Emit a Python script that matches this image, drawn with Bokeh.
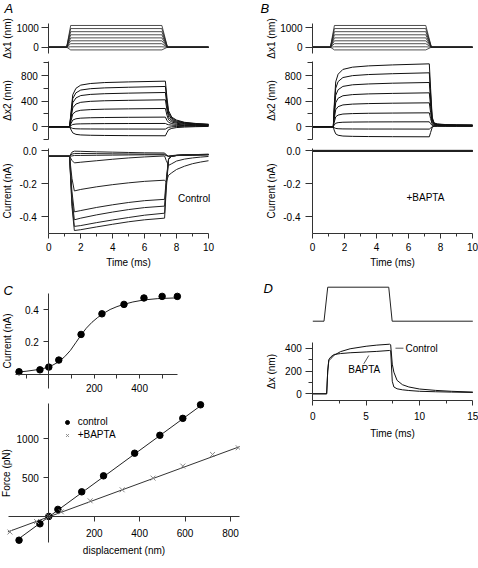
from bokeh.plotting import figure
from bokeh.models import Range1d, FixedTicker, PrintfTickFormatter, Label, Legend, LegendItem
from bokeh.layouts import column, row
from bokeh.embed import file_html
from bokeh.resources import INLINE

FONT = "Liberation Sans"
AX = "#333333"
TXT = "#000000"

# ---------------- data ----------------
# A/B top: command displacement steps dx1 (nm)
STEP_T = [0, 1.12, 1.37, 7.08, 7.43, 10]
STEP_LEVELS = [-140, 20, 180, 330, 480, 640, 800, 960, 1120]

# A middle: dx2 (nm), control
X2_T_A = [0, 1.3, 1.4, 1.5, 1.7, 2.0, 2.6, 3.5, 5.0, 7.3, 7.4, 7.5, 7.7, 8.0, 8.5, 9.2, 10.0]
X2_A = [
    [0, 0, -50, -95, -118, -127, -132, -135, -138, -140, -90, -45, -25, -12, -4, 2, 6],
    [0, 0, -15, -26, -31, -33, -34, -35, -35, -36, -20, -8, 0, 4, 8, 10, 12],
    [0, 0, 20, 36, 43, 46, 48, 50, 51, 52, 40, 32, 26, 22, 20, 18, 16],
    [0, 0, 55, 105, 125, 135, 141, 145, 148, 151, 100, 70, 50, 38, 30, 24, 20],
    [0, 0, 100, 200, 240, 258, 268, 275, 280, 286, 180, 110, 75, 55, 40, 32, 26],
    [0, 0, 150, 295, 355, 382, 397, 406, 413, 421, 260, 150, 95, 68, 50, 38, 30],
    [0, 0, 190, 375, 450, 487, 505, 516, 525, 535, 330, 190, 115, 80, 58, 44, 34],
    [0, 0, 220, 440, 530, 573, 594, 607, 617, 629, 390, 220, 135, 92, 64, 48, 37],
    [0, 0, 250, 500, 600, 650, 675, 690, 700, 712, 450, 250, 150, 105, 70, 52, 40],
]

# B middle: dx2 (nm), +BAPTA
X2_T_B = [0, 1.3, 1.35, 1.45, 1.6, 1.9, 2.5, 3.5, 5.0, 7.3, 7.38, 7.48, 7.6, 7.8, 8.3, 9.0, 10.0]
X2_B = [
    [0, 0, -50, -110, -132, -144, -149, -152, -154, -156, -90, -10, 10, 12, 10, 9, 8],
    [0, 0, -12, -25, -30, -33, -34, -35, -35, -36, -20, 0, 8, 10, 10, 10, 10],
    [0, 0, 25, 55, 65, 71, 74, 76, 77, 78, 50, 20, 15, 14, 13, 13, 12],
    [0, 0, 65, 155, 183, 199, 206, 211, 214, 218, 130, 40, 25, 22, 20, 18, 17],
    [0, 0, 115, 265, 314, 341, 354, 362, 368, 374, 225, 62, 35, 28, 24, 22, 20],
    [0, 0, 160, 375, 445, 484, 502, 513, 521, 530, 320, 85, 42, 33, 27, 24, 22],
    [0, 0, 210, 490, 578, 630, 655, 668, 680, 691, 420, 110, 50, 38, 30, 26, 24],
    [0, 0, 260, 600, 705, 768, 798, 815, 828, 842, 510, 130, 55, 40, 32, 28, 26],
    [0, 0, 300, 700, 820, 895, 930, 950, 965, 982, 600, 150, 60, 45, 35, 30, 28],
]

# A bottom: transducer current (nA), control
CUR_T_A = [0, 1.3, 1.45, 1.6, 2.0, 3.0, 4.0, 5.0, 6.0, 7.25, 7.35, 7.5, 7.7, 8.0, 8.5, 9.0, 9.5, 10.0]
CUR_A = [
    [-0.035, -0.035, -0.010, -0.004, -0.005, -0.008, -0.010, -0.012, -0.014, -0.015, -0.025, -0.035, -0.033, -0.030, -0.028, -0.026, -0.025, -0.024],
    [-0.035, -0.035, -0.022, -0.018, -0.018, -0.019, -0.020, -0.021, -0.022, -0.022, -0.030, -0.036, -0.033, -0.030, -0.027, -0.025, -0.024, -0.023],
    [-0.035, -0.035, -0.033, -0.030, -0.030, -0.029, -0.028, -0.027, -0.026, -0.026, -0.030, -0.034, -0.031, -0.028, -0.026, -0.025, -0.024, -0.023],
    [-0.035, -0.035, -0.060, -0.075, -0.071, -0.062, -0.053, -0.045, -0.039, -0.033, -0.060, -0.090, -0.080, -0.064, -0.052, -0.045, -0.040, -0.036],
    [-0.035, -0.035, -0.170, -0.245, -0.236, -0.220, -0.207, -0.196, -0.187, -0.180, -0.190, -0.150, -0.135, -0.115, -0.095, -0.080, -0.070, -0.062],
    [-0.035, -0.035, -0.250, -0.372, -0.364, -0.345, -0.329, -0.315, -0.304, -0.296, -0.180, -0.050, -0.035, -0.031, -0.029, -0.028, -0.027, -0.026],
    [-0.035, -0.035, -0.290, -0.420, -0.410, -0.390, -0.373, -0.358, -0.346, -0.337, -0.200, -0.050, -0.034, -0.030, -0.028, -0.027, -0.026, -0.025],
    [-0.035, -0.035, -0.320, -0.460, -0.455, -0.437, -0.421, -0.406, -0.392, -0.380, -0.220, -0.052, -0.034, -0.030, -0.028, -0.027, -0.026, -0.025],
    [-0.035, -0.035, -0.340, -0.485, -0.480, -0.463, -0.447, -0.432, -0.420, -0.410, -0.240, -0.055, -0.034, -0.030, -0.028, -0.027, -0.026, -0.025],
]

# B bottom: current (nA) with BAPTA - flat traces
CUR_T_B = [0, 10]
CUR_B_LEVELS = [-0.006, -0.005, -0.004, -0.003, -0.002, -0.002, -0.001, 0.0, 0.001]

# C top: current vs displacement
C_DISP = [-131, -39, 0, 44, 142, 234, 331, 419, 499, 566]
C_CUR = [0.011, 0.023, 0.040, 0.084, 0.244, 0.373, 0.432, 0.472, 0.482, 0.482]
C_FIT_X = [-146, -100, -50, 0, 40, 70, 95, 120, 142, 165, 190, 215, 240, 270, 300, 330, 370, 420, 480, 568]
C_FIT_Y = [0.008, 0.014, 0.024, 0.039, 0.070, 0.105, 0.144, 0.195, 0.240, 0.283, 0.320, 0.350, 0.375, 0.400, 0.418, 0.432, 0.447, 0.460, 0.468, 0.473]

# C bottom: force vs displacement
F_DISP_CTRL = [-131, -39, 0, 40, 145, 241, 378, 489, 590, 668]
F_CTRL = [-300, -90, 5, 95, 320, 525, 815, 1045, 1262, 1436]
F_DISP_BAPTA = [-171, -54, 0, 55, 182, 323, 459, 590, 721, 834]
F_BAPTA = [-195, -60, 5, 64, 205, 346, 496, 650, 799, 885]
CTRL_LINE_X = [-131, 668]
CTRL_LINE_Y = [-279, 1423]
BAPTA_LINE_X = [-180, 840]
BAPTA_LINE_Y = [-193, 899]

# D: stimulus and bundle displacement (nm)
STIM_T = [0, 1.05, 1.4, 7.12, 7.44, 15]
STIM_Y = [0, 0, 1, 1, 0, 0]
D_T = [0, 1.3, 1.4, 1.5, 1.7, 2.0, 2.6, 3.5, 5.0, 6.0, 7.2, 7.3, 7.45, 7.6, 7.9, 8.4, 9.0, 10.0, 11.5, 13.0, 15.0]
D_CTRL = [0, 0, 200, 290, 310, 338, 370, 395, 417, 427, 435, 430, 260, 190, 118, 80, 60, 42, 30, 22, 15]
D_BAPTA = [0, 0, 200, 300, 325, 345, 353, 360, 367, 372, 380, 378, 110, 60, 44, 35, 29, 22, 18, 15, 12]
# annotation positions in D (data units)
D_CTRL_LABEL = (8.69, 400)
D_CTRL_LEADER = ([7.75, 8.5], [400, 400])
D_BAPTA_LABEL = (3.32, 213)
D_BAPTA_LEADER = ([5.25, 4.78], [336, 263])


# ---------------- figure helpers ----------------
def lin(m, px):
    p0, v0, p1, v1 = m
    return v0 + (px - p0) * (v1 - v0) / (p1 - p0)


def new_fig(canvas, xmap, ymap):
    """canvas in page px; xmap/ymap: two (pixel, value) calibration pairs.
    The plot frame fills the whole canvas so that no text is clipped."""
    cx0, cy0, cx1, cy1 = canvas
    p = figure(width=cx1 - cx0, height=cy1 - cy0,
               x_range=Range1d(lin(xmap, cx0), lin(xmap, cx1)),
               y_range=Range1d(lin(ymap, cy1), lin(ymap, cy0)),
               min_border=0, min_border_left=0, min_border_right=0,
               min_border_top=0, min_border_bottom=0,
               output_backend="svg", toolbar_location=None,
               outline_line_color=None, background_fill_color="white",
               border_fill_color="white")
    p.grid.visible = False
    p._canvas = canvas
    return p


def style(ax, at, bounds, ticks=(), minor=(), fmt=None, tick_out=5, minor_out=None,
          standoff=4, label=None, label_standoff=0):
    ax.fixed_location = at
    ax.bounds = bounds
    ax.ticker = FixedTicker(ticks=list(ticks), minor_ticks=list(minor))
    ax.axis_line_color = AX
    ax.axis_line_width = 1
    ax.major_tick_line_color = AX
    ax.minor_tick_line_color = AX
    ax.major_tick_in = 0
    ax.major_tick_out = tick_out
    ax.minor_tick_in = 0
    ax.minor_tick_out = tick_out if minor_out is None else minor_out
    ax.major_label_text_font = FONT
    ax.major_label_text_font_size = "10px"
    ax.major_label_text_color = TXT
    ax.major_label_standoff = standoff
    if fmt:
        ax.formatter = PrintfTickFormatter(format=fmt)
    if label is not None:
        ax.axis_label = label
        ax.axis_label_text_font = FONT
        ax.axis_label_text_font_size = "10px"
        ax.axis_label_text_font_style = "normal"
        ax.axis_label_text_color = TXT
        ax.axis_label_standoff = label_standoff


def letter(p, text, rx, ry):
    cx0, cy0, cx1, cy1 = p._canvas
    p.add_layout(Label(x=rx - cx0, y=cy1 - ry, x_units="screen", y_units="screen",
                       text=text, text_font=FONT, text_font_style="italic",
                       text_font_size="13px", text_color=TXT,
                       text_align="left", text_baseline="middle"))


def note(p, text, x, y, align="left"):
    p.add_layout(Label(x=x, y=y, text=text, text_font=FONT, text_font_size="10px",
                       text_color=TXT, text_align=align, text_baseline="middle"))


TOP_SPLIT = 60  # boundary between the dx1 and dx2 strips


def step_panel(cx0, cx1, xmap, name, lx):
    p = new_fig((cx0, 0, cx1, TOP_SPLIT), xmap, (46.7, 0, 27.3, 1000))
    p.multi_line(xs=[STEP_T] * len(STEP_LEVELS), ys=[[0, 0, L, L, 0, 0] for L in STEP_LEVELS],
                 line_color="#222222", line_width=0.8)
    p.xaxis.visible = False
    style(p.yaxis[0], 0, (-325, 1220), [0, 1000], tick_out=7, standoff=3,
          label="\u0394x1 (nm)", label_standoff=0)
    letter(p, name, lx, 7.5)
    return p


def x2_panel(cx0, cx1, xmap, tt, traces):
    p = new_fig((cx0, TOP_SPLIT, cx1, 142), xmap, (126.3, 0, 75, 800))
    p.multi_line(xs=[tt] * len(traces), ys=traces, line_color="#111111", line_width=1)
    p.xaxis.visible = False
    style(p.yaxis[0], 0, (-200, 1018), [0, 400, 800], minor=[-200, 200, 600, 1000],
          tick_out=7, minor_out=5, label="\u0394x2 (nm)", label_standoff=5)
    return p


def cur_panel(cx0, cx1, xmap, tt, traces):
    p = new_fig((cx0, 142, cx1, 272), xmap, (150, 0, 216, -0.4))
    p.multi_line(xs=[tt] * len(traces), ys=traces, line_color="#222222", line_width=1)
    style(p.yaxis[0], 0, (-0.503, 0.012), [-0.4, -0.2, 0.0], fmt="%.1f", tick_out=7,
          standoff=5, label="Current (nA)", label_standoff=3)
    style(p.xaxis[0], -0.503, (0, 10), [0, 2, 4, 6, 8, 10], minor=[1, 3, 5, 7, 9],
          tick_out=5, minor_out=3, standoff=5, label="Time (ms)", label_standoff=2)
    return p


XMAP_A = (48.3, 0, 208, 10)
XMAP_B = (312, 0, 472, 10)

# ---------------- panel A ----------------
A1 = step_panel(0, 240, XMAP_A, "A", 4)
A2 = x2_panel(0, 240, XMAP_A, X2_T_A, X2_A)
A3 = cur_panel(0, 240, XMAP_A, CUR_T_A, CUR_A)
note(A3, "Control", 8.09, -0.291)

# ---------------- panel B ----------------
B1 = step_panel(240, 478, XMAP_B, "B", 260)
B2 = x2_panel(240, 478, XMAP_B, X2_T_B, X2_B)
B3 = cur_panel(240, 478, XMAP_B, CUR_T_B, [[v, v] for v in CUR_B_LEVELS])
note(B3, "+BAPTA", 5.875, -0.2875)

# ---------------- panel C ----------------
XMAP_C = (48.3, 0, 230, 800)
C1 = new_fig((0, 272, 240, 398), XMAP_C, (373, 0, 309, 0.4))
C1.line(C_FIT_X, C_FIT_Y, line_color="#222222", line_width=1)
C1.scatter(C_DISP, C_CUR, marker="circle", size=6.5, fill_color="black", line_color="black")
style(C1.yaxis[0], 0, (-0.094, 0.5), [0.2, 0.4], fmt="%.1f", tick_out=5, standoff=5,
      label="Current (nA)", label_standoff=9)
style(C1.xaxis[0], -0.006, (-146, 568), [200, 400], minor=[-100, 100, 300, 500],
      tick_out=4, minor_out=4, standoff=6)
letter(C1, "C", 3, 289.5)

C2 = new_fig((0, 398, 240, 558), XMAP_C, (516.3, 0, 438.3, 1000))
C2.line(CTRL_LINE_X, CTRL_LINE_Y, line_color="#222222", line_width=1)
C2.line(BAPTA_LINE_X, BAPTA_LINE_Y, line_color="#333333", line_width=1)
r_ctrl = C2.scatter(F_DISP_CTRL, F_CTRL, marker="circle", size=6.5,
                    fill_color="black", line_color="black")
r_bapta = C2.scatter(F_DISP_BAPTA, F_BAPTA, marker="x", size=7,
                     line_color="#8a8a8a", line_width=1)
style(C2.yaxis[0], 0, (-329, 1452), [500, 1000], tick_out=5, standoff=5,
      label="Force (pN)", label_standoff=1)
style(C2.xaxis[0], 0, (-176, 839), [200, 400, 600, 800], tick_out=5, standoff=7,
      label="displacement (nm)", label_standoff=5)
legend = Legend(items=[LegendItem(label="control", renderers=[r_ctrl]),
                       LegendItem(label="+BAPTA", renderers=[r_bapta])],
                location=(61.7 - 0, 558 - 440.7),
                orientation="vertical", border_line_color=None,
                background_fill_alpha=0, padding=0, margin=0, spacing=1,
                glyph_width=10, glyph_height=12, label_height=12,
                label_standoff=6, label_text_font=FONT, label_text_font_size="10px",
                label_text_color=TXT)
C2.add_layout(legend)

# ---------------- panel D ----------------
XMAP_D = (312.3, 0, 472.3, 15)
D1 = new_fig((240, 272, 478, 327), XMAP_D, (320.7, 0, 286.7, 1))
D1.line(STIM_T, STIM_Y, line_color="#222222", line_width=1)
D1.xaxis.visible = False
D1.yaxis.visible = False
letter(D1, "D", 263, 288)

D2 = new_fig((240, 327, 478, 445), XMAP_D, (393.3, 0, 347.7, 400))
D2.line(D_T, D_CTRL, line_color="#111111", line_width=1)
D2.line(D_T, D_BAPTA, line_color="#111111", line_width=1)
D2.segment(x0=[D_CTRL_LEADER[0][0], D_BAPTA_LEADER[0][0]], y0=[D_CTRL_LEADER[1][0], D_BAPTA_LEADER[1][0]],
           x1=[D_CTRL_LEADER[0][1], D_BAPTA_LEADER[0][1]], y1=[D_CTRL_LEADER[1][1], D_BAPTA_LEADER[1][1]],
           line_color="#555555", line_width=1)
note(D2, "Control", *D_CTRL_LABEL)
note(D2, "BAPTA", *D_BAPTA_LABEL)
style(D2.yaxis[0], 0, (-59, 453), [0, 200, 400], minor=[100, 300], tick_out=7, minor_out=4,
      label="\u0394x (nm)", label_standoff=5)
style(D2.xaxis[0], -59, (0, 15), [0, 5, 10, 15], minor=[2.5, 7.5, 12.5], tick_out=5,
      minor_out=3, standoff=6, label="Time (ms)", label_standoff=5)

left = column(A1, A2, A3, C1, C2, spacing=0)
right = column(B1, B2, B3, D1, D2, spacing=0)
layout = row(left, right, spacing=0)

open("out.html", "w").write(file_html(layout, INLINE))
